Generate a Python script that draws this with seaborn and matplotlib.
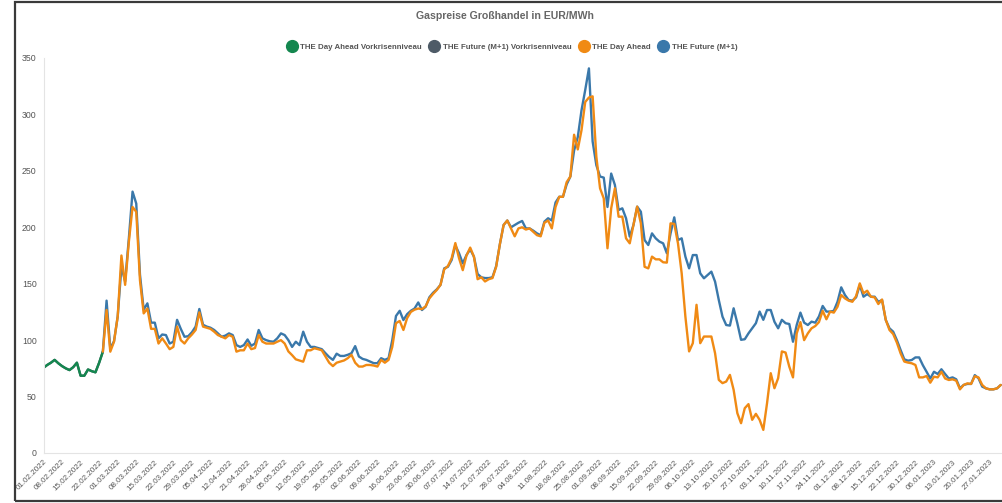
import numpy as np
import pandas as pd
import matplotlib
matplotlib.use("Agg")
import matplotlib.pyplot as plt
from matplotlib.lines import Line2D
from matplotlib.patches import Rectangle
import seaborn as sns

# --- data -----------------------------------------------------------------
# trading days (German gas exchange calendar: weekdays without a few holidays)
trading_days = pd.bdate_range("2022-02-01", "2023-02-01", freq="C",
                              holidays=["2022-04-15", "2022-04-18", "2022-12-26"])

series_names = ["THE Day Ahead Vorkrisenniveau", "THE Future (M+1) Vorkrisenniveau",
                "THE Day Ahead", "THE Future (M+1)"]

# pre-crisis level, 01.02.2022 - 23.02.2022
day_ahead_pre = [75.5, 78, 80, 82.5, 79.5, 77, 75, 73.5, 76, 80, 68.5, 68.5, 74, 72.5, 71.5, 80, 89.8]
future_pre = [75.5, 78, 80, 82.5, 79.5, 77, 75, 73.5, 76, 80, 68.5, 68.5, 74, 72.5, 71.5, 80, 89.8]

# from 23.02.2022 onwards
day_ahead = [
    89.8, 126.7, 89.8, 98.6, 121, 175, 149, 187, 218, 213.7,
    153, 123.7, 128, 110, 110, 97, 101.6, 97, 92, 94,
    112, 100, 97, 101.6, 105, 109, 124.6, 112, 111, 110,
    107.5, 104.5, 103, 101.6, 104.5, 103, 89.8, 91, 91, 97,
    92, 93, 104.5, 98.6, 97, 97, 97, 98.6, 100, 97,
    90, 86.7, 83, 82, 80.9, 91, 91,
    92.8, 92, 91, 85.5, 80, 77, 80, 81, 82, 84,
    87, 80, 76.6, 76.6, 78, 78, 77.5, 76.6, 82.5, 80,
    82.5, 94, 115, 117, 109, 119.5, 125, 127, 128, 127.5,
    130, 137, 141, 144.5, 149, 162.7, 165.7, 172.5, 186, 172.5,
    162, 175, 182, 174, 154, 155.7, 152, 154, 155, 165,
    185, 202, 206,
    199, 192, 199, 200, 198, 199, 196, 193, 192, 204, 206, 199, 218, 227, 227, 240, 245,
    282, 269, 286, 311, 315, 316,
    262.5, 234.5, 225.6, 181.4, 216.8, 234.5, 209.4, 209.4, 190.2, 185.8, 202, 218.3,
    203.5, 165, 163.6, 174, 171.6, 171.6, 169, 168.7, 203.5, 203, 185.8, 159.2, 120.8,
    90, 97.3, 131.3, 97.3, 103.2, 103.2, 103.2, 88.4, 64.8, 61.9, 63.3, 69.2, 56, 35.3,
    26.4, 39.7, 43.3, 29.4, 34.7, 29.4, 20.5, 44, 70.7, 57.4, 66.3, 90,
    89, 76.5, 67, 106, 116, 100, 106, 110.5, 112.5, 116, 126, 118.5, 125.3, 124.4, 129.6,
    140, 137, 135, 134, 139, 150.3, 141.5, 143.8, 138.5, 137.9, 132, 136, 118, 109, 105.4,
    97.8, 88.3, 81, 80.1, 79.5, 78, 67, 67, 68.2, 62.3, 67.6, 67, 72, 66, 64.7, 65.3, 64.1,
    56.4, 60.3, 61.7, 61.2, 68, 67, 60.3, 57.3, 56.4, 56.4, 57.3, 60.3,
]
future_m1 = [
    89.8, 135, 92.6, 99, 121, 165, 152, 190, 231.6, 221,
    158, 127, 132.6, 115.5, 115.5, 101.6, 105, 104.5, 97, 98.6,
    118, 110, 103, 103.5, 107, 112, 127.6, 113.6, 112, 111,
    109, 106, 103, 104, 106, 104.5, 95.6, 94, 95.6, 100.6,
    95, 97, 109, 101.6, 100, 99, 98.6, 101.6, 106, 104.5,
    100, 94, 98.6, 95.6, 107.5, 98.6, 94,
    94, 93, 92, 88.4, 85, 82.5, 88, 86, 86, 87,
    88.4, 94.7, 85.5, 83.4, 82.5, 81, 79.6, 79.6, 84, 82.5,
    84, 100, 121.4, 126, 117.8, 123, 126, 128, 133.4, 126.7,
    129.6, 138, 142, 145, 149, 163.6, 165, 171, 184, 177,
    168, 175.4, 180.4, 174, 158.6, 155.7, 155, 155, 155.7, 165.6,
    185, 202, 206,
    200, 202, 204, 205.6, 199, 199, 197, 194.6, 193, 205, 208, 206, 222, 227, 227, 238, 245,
    268, 280, 303.6, 321.6, 340.8,
    276, 255, 245, 244, 218, 247.6, 237.5, 215.3, 216.8, 208, 191.7, 202, 218.3, 213.8,
    188.7, 184.3, 194.6, 190.2, 187.3, 185.8, 177, 194.6, 208.8, 188.7, 190.2, 174, 163.6,
    175.4, 175.4, 159.2, 154.8, 157.7, 160.7, 151.8, 135.6, 120.8, 113.4, 112.9, 128.2,
    115, 100.3, 100.8, 106, 110.5, 115, 125.3, 118, 126.7, 126.7, 116.3, 110.5, 118,
    115, 114.3, 98.6, 113.4, 124.4, 115.5, 113.4, 116.4, 115.5, 121, 130.3, 125.3, 125.3,
    126, 134, 146.8, 140, 135.5, 135, 137.9, 148.8, 138.5, 140.8, 138.5, 138.5, 134, 135.5,
    117.9, 110.5, 107.5, 100, 91.3, 83, 81.8, 82.4, 84.7, 84.7, 77.8, 72, 66, 72, 70, 74.2,
    70, 66, 67, 65.3, 57.3, 60.3, 61.2, 61.2, 69, 66.2, 58.8, 57.3, 56.4, 56.4, 57.3, 60.3,
]

colors = {
    "THE Day Ahead Vorkrisenniveau": "#14874f",
    "THE Future (M+1) Vorkrisenniveau": "#4e5b67",
    "THE Day Ahead": "#f08a14",
    "THE Future (M+1)": "#3a78aa",
}

# long table: one row per trading day and series
start_crisis = len(day_ahead_pre) - 1
frames = []
for name, vals, offset in [
    ("THE Future (M+1) Vorkrisenniveau", future_pre, 0),
    ("THE Day Ahead Vorkrisenniveau", day_ahead_pre, 0),
    ("THE Future (M+1)", future_m1, start_crisis),
    ("THE Day Ahead", day_ahead, start_crisis),
]:
    pos = np.arange(offset, offset + len(vals))
    frames.append(pd.DataFrame({"pos": pos, "value": vals, "series": name}))
df = pd.concat(frames, ignore_index=True)

# --- figure ---------------------------------------------------------------
sns.set_theme(style="white")
plt.rcParams["font.family"] = ["Liberation Sans", "DejaVu Sans"]

W, H = 1003, 503
fig = plt.figure(figsize=(W / 100, H / 100), dpi=100)
ax = fig.add_axes([43.5 / W, 50 / H, 1 - 43.5 / W, 395 / H])

draw_order = ["THE Future (M+1) Vorkrisenniveau", "THE Day Ahead Vorkrisenniveau",
              "THE Future (M+1)", "THE Day Ahead"]
sns.lineplot(data=df, x="pos", y="value", hue="series", hue_order=draw_order,
             palette=colors, linewidth=1.7, legend=False, errorbar=None,
             estimator=None, sort=False, ax=ax)

ax.set_xlim(0, 258.6)
ax.set_ylim(0, 350)
ax.set_xlabel("")
ax.set_ylabel("")

tick_pos = np.arange(0, len(trading_days), 5)
ax.set_xticks(tick_pos)
ax.set_xticklabels(trading_days[tick_pos].strftime("%d.%m.%Y"), rotation=45,
                   ha="right", va="top", rotation_mode="anchor",
                   fontsize=5.8, color="#555555")
ax.set_yticks(np.arange(0, 351, 50))
ax.set_yticklabels([str(v) for v in range(0, 351, 50)], fontsize=6.3, color="#555555")
ax.tick_params(axis="both", length=0)
ax.tick_params(axis="y", pad=5)
ax.tick_params(axis="x", pad=4)

for side in ["top", "right"]:
    ax.spines[side].set_visible(False)
for side in ["left", "bottom"]:
    ax.spines[side].set_color("#e4e4e4")
    ax.spines[side].set_linewidth(0.8)

fig.text(0.503, 1 - 16 / H, "Gaspreise Großhandel in EUR/MWh", ha="center", va="center",
         fontsize=7.6, fontweight="bold", color="#666666")

legend_order = ["THE Day Ahead Vorkrisenniveau", "THE Future (M+1) Vorkrisenniveau",
                "THE Day Ahead", "THE Future (M+1)"]
handles = [Line2D([], [], ls="none", marker="o", markersize=8.5, color=colors[n]) for n in legend_order]
fig.legend(handles, legend_order, loc="center", bbox_to_anchor=(0.511, 1 - 47 / H), ncol=4,
           frameon=False, handletextpad=0.55, columnspacing=1.1, handlelength=1.0,
           prop={"size": 5.7, "weight": "bold"}, labelcolor="#555555")

# dark frame around the chart panel
fig.add_artist(Rectangle((15 / W, 2 / H), 1.2, 499 / H, transform=fig.transFigure,
                         fill=False, ec="#3a3a3a", lw=1.6))

fig.savefig("out.png", dpi=100, facecolor="white")
